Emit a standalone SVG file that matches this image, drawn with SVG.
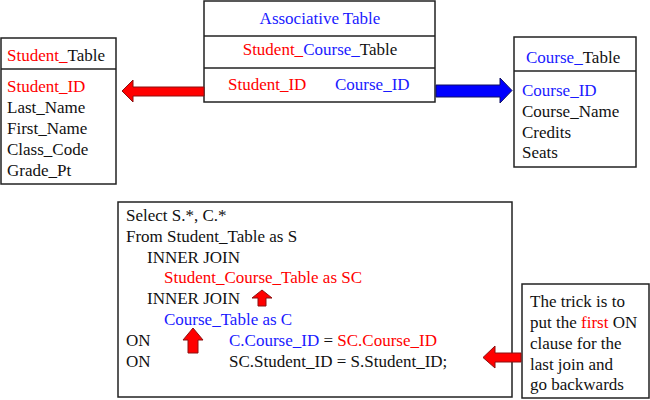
<svg xmlns="http://www.w3.org/2000/svg" width="650" height="400" viewBox="0 0 650 400" font-family="'Liberation Serif', 'DejaVu Serif', serif">
<style>
text{font-size:17px;fill:#111}
.r{fill:#ff0000}
.b{fill:#1a1aff}
.box{fill:#fff;stroke:#222;stroke-width:1.5}
.ra{fill:#ff0000;stroke:#8b1010;stroke-width:1}
.ba{fill:#0000ff;stroke:#101060;stroke-width:1}
</style>
<rect width="650" height="400" fill="#fff"/>
<g id="student_table">
<rect class="box" x="1" y="38" width="115" height="146"/>
<line class="box" x1="1" y1="69" x2="116" y2="69"/>
<text x="7" y="61"><tspan class="r">Student_</tspan>Table</text>
<text x="7" y="92" class="r">Student_ID</text>
<text x="7" y="113">Last_Name</text>
<text x="7" y="134">First_Name</text>
<text x="7" y="155">Class_Code</text>
<text x="7" y="176">Grade_Pt</text>
</g>
<g id="associative_table">
<rect class="box" x="204" y="1" width="231" height="101"/>
<line class="box" x1="204" y1="36" x2="435" y2="36"/>
<line class="box" x1="204" y1="68" x2="435" y2="68"/>
<text x="320" y="24" text-anchor="middle" class="b">Associative Table</text>
<text x="320" y="55" text-anchor="middle"><tspan class="r">Student_</tspan><tspan class="b">Course_</tspan>Table</text>
<text x="228" y="90" class="r">Student_ID</text>
<text x="335" y="90" class="b">Course_ID</text>
</g>
<g id="course_table">
<rect class="box" x="514" y="37" width="122" height="130"/>
<line class="box" x1="514" y1="71" x2="636" y2="71"/>
<text x="526" y="63"><tspan class="b">Course_</tspan>Table</text>
<text x="522" y="96" class="b">Course_ID</text>
<text x="522" y="117">Course_Name</text>
<text x="522" y="138">Credits</text>
<text x="522" y="158">Seats</text>
</g>
<g id="sql_box">
<rect class="box" x="118" y="202" width="394" height="195"/>
<text x="126" y="221">Select S.*, C.*</text>
<text x="126" y="242">From Student_Table as S</text>
<text x="147" y="263">INNER JOIN</text>
<text x="164" y="283" class="r">Student_Course_Table as SC</text>
<text x="147" y="304">INNER JOIN</text>
<text x="164" y="325" class="b">Course_Table as C</text>
<text x="126" y="346">ON</text>
<text x="229" y="346"><tspan class="b">C.Course_ID</tspan> = <tspan class="r">SC.Course_ID</tspan></text>
<text x="126" y="367">ON</text>
<text x="229" y="367">SC.Student_ID = S.Student_ID;</text>
</g>
<g id="note_box">
<rect class="box" x="522" y="284" width="127" height="114"/>
<text x="530" y="307">The trick is to</text>
<text x="530" y="328">put the <tspan class="r">first</tspan> ON</text>
<text x="530" y="349">clause for the</text>
<text x="530" y="370">last join and</text>
<text x="530" y="390">go backwards</text>
</g>
<g id="connectors">
<path class="ra" d="M204,87 L133,87 L133,80 L122,91 L133,102 L133,96 L204,96 Z"/>
<path class="ba" d="M436,85 L500,85 L500,78 L512,90.5 L500,103 L500,97 L436,97 Z"/>
<path class="ra" d="M521,353 L495,353 L495,346 L483,357.5 L495,368 L495,362 L521,362 Z"/>
<path class="ra" d="M262,290 L272,298 L266,298 L266,306 L258,306 L258,298 L252,298 Z"/>
<path class="ra" d="M193,328 L203,340 L198,340 L198,353 L188,353 L188,340 L183,340 Z"/>
</g>
</svg>
